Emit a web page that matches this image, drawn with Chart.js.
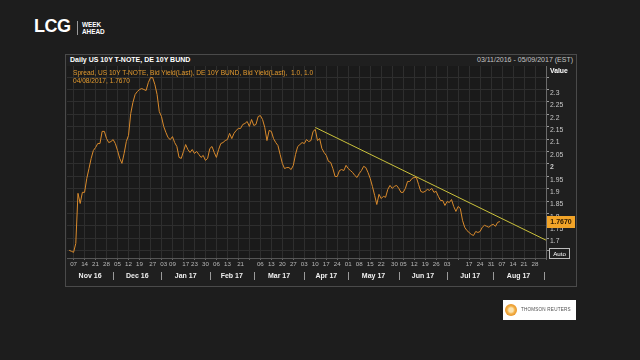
<!DOCTYPE html>
<html><head><meta charset="utf-8">
<script src="https://cdn.jsdelivr.net/npm/chart.js@4"></script>
<style>
html,body{margin:0;padding:0;background:#1d1d1d;width:640px;height:360px;overflow:hidden;font-family:"Liberation Sans",Arial,sans-serif;}
.abs{position:absolute;white-space:nowrap;}
#panel{left:65px;top:54px;width:512px;height:233px;border:1px solid #4a4a4a;background:#1f1f1f;box-sizing:border-box;}
#wrap{left:66px;top:64px;width:510px;height:222px;}
#title{left:70px;top:56px;color:#fff;font-weight:bold;font-size:7px;line-height:8px;}
#range{right:67px;top:56px;color:#c4c4c4;font-size:7px;line-height:8px;}
#leg1{left:73px;top:69px;color:#e39a2e;font-size:6.6px;line-height:8px;}
#leg2{left:73px;top:77px;color:#e39a2e;font-size:6.6px;line-height:8px;}
#valuehdr{left:550px;top:67px;color:#fff;font-weight:bold;font-size:6.8px;line-height:8px;}
#auto{left:549px;top:248px;width:19px;height:9px;border:1px solid #bdbdbd;color:#fff;font-size:6.2px;line-height:9px;text-align:center;}
#lcg{left:34px;top:16px;color:#fff;font-weight:bold;font-size:18px;line-height:20px;letter-spacing:-0.5px;}
#lcgsep{left:77px;top:21px;width:1px;height:14px;background:#9a9a9a;}
#week{left:82px;top:21px;color:#fff;font-weight:bold;font-size:6.4px;line-height:7px;}
#tr{left:503px;top:300px;width:73px;height:20px;background:#fff;}
#trlogo{left:505px;top:304px;width:12px;height:12px;border-radius:50%;background:radial-gradient(circle at 50% 50%,#fbe3b0 0 25%,#f3b24a 45%,#e8962a 70%,#f7c77a 100%);}
#trtext{left:521px;top:307px;color:#505050;font-size:4.6px;line-height:6px;letter-spacing:0.2px;}
</style>
</head><body>
<div id="panel" class="abs"></div>
<div id="title" class="abs">Daily US 10Y T-NOTE, DE 10Y BUND</div>
<div id="range" class="abs">03/11/2016 - 05/09/2017 (EST)</div>
<div id="wrap" class="abs"><canvas id="c" width="510" height="222"></canvas></div>
<div id="leg1" class="abs">Spread, US 10Y T-NOTE, Bid Yield(Last), DE 10Y BUND, Bid Yield(Last),&nbsp; 1.0, 1.0</div>
<div id="leg2" class="abs">04/08/2017, 1.7670</div>
<div id="valuehdr" class="abs">Value</div>
<div id="auto" class="abs">Auto</div>
<div id="lcg" class="abs">LCG</div>
<div id="lcgsep" class="abs"></div>
<div id="week" class="abs">WEEK<br>AHEAD</div>
<div id="tr" class="abs"></div>
<div id="trlogo" class="abs"></div>
<div id="trtext" class="abs">THOMSON REUTERS</div>
<script>
// ---- data ----
const axisStart = '2016-11-02';
const axisEnd = '2017-09-04';
const spreadStart = '2016-11-03';
const spread = [
1.651,1.647,1.643,1.679,1.881,1.840,1.885,1.885,1.941,1.981,
2.022,2.054,2.066,2.082,2.082,2.131,2.131,2.102,2.086,2.090,
2.098,2.082,2.054,2.022,2.002,2.042,2.090,2.115,2.203,2.248,
2.280,2.292,2.300,2.304,2.300,2.296,2.328,2.348,2.348,2.320,
2.280,2.211,2.191,2.151,2.127,2.106,2.098,2.110,2.086,2.070,
2.026,2.022,2.050,2.078,2.058,2.046,2.058,2.042,2.050,2.038,
2.026,2.034,2.014,2.022,2.062,2.070,2.046,2.026,2.058,2.082,
2.086,2.094,2.098,2.123,2.102,2.123,2.135,2.143,2.143,2.159,
2.163,2.171,2.151,2.179,2.155,2.159,2.191,2.195,2.179,2.147,
2.094,2.135,2.131,2.102,2.086,2.074,2.038,2.002,1.981,1.985,
1.985,1.977,1.994,2.038,2.070,2.078,2.086,2.082,2.098,2.090,
2.094,2.131,2.139,2.094,2.102,2.062,2.046,2.034,2.010,2.006,
1.981,1.949,1.949,1.973,1.977,1.973,1.994,1.981,1.973,1.965,
1.953,1.945,1.961,1.973,1.990,1.985,1.965,1.941,1.909,1.873,
1.836,1.877,1.860,1.869,1.865,1.897,1.913,1.901,1.909,1.913,
1.901,1.885,1.885,1.901,1.929,1.929,1.941,1.945,1.945,1.917,
1.889,1.885,1.889,1.897,1.893,1.901,1.885,1.889,1.869,1.852,
1.852,1.832,1.848,1.844,1.856,1.828,1.808,1.828,1.820,1.772,
1.744,1.731,1.723,1.715,1.711,1.727,1.723,1.727,1.744,1.752,
1.748,1.744,1.752,1.756,1.748,1.764,1.767
];
const trendDates = ['2017-04-10', '2017-09-04'];
const trendValues = [2.147, 1.692];
const lastValue = 1.7670;
const yGridValues = [1.65,1.7,1.75,1.8,1.85,1.9,1.95,2,2.05,2.1,2.15,2.2,2.25,2.3,2.35];
const yLabelMin = 1.7, yLabelMax = 2.3;
const weekLabels = [
'2016-11-07','2016-11-14','2016-11-21','2016-11-28',
'2016-12-05','2016-12-12','2016-12-19','2016-12-27',
'2017-01-03','2017-01-09','2017-01-17','2017-01-23','2017-01-30',
'2017-02-06','2017-02-13','2017-02-21',
'2017-03-06','2017-03-13','2017-03-20','2017-03-27',
'2017-04-03','2017-04-10','2017-04-17','2017-04-24',
'2017-05-01','2017-05-08','2017-05-15','2017-05-22','2017-05-30',
'2017-06-05','2017-06-12','2017-06-19','2017-06-26',
'2017-07-03','2017-07-17','2017-07-24','2017-07-31',
'2017-08-07','2017-08-14','2017-08-21','2017-08-28'
];
const monthKeys = ['2016-11','2016-12','2017-01','2017-02','2017-03','2017-04','2017-05','2017-06','2017-07','2017-08','2017-09'];
const monthLabels = ['Nov 16','Dec 16','Jan 17','Feb 17','Mar 17','Apr 17','May 17','Jun 17','Jul 17','Aug 17'];

// ---- build categories (weekdays) ----
function ymd(d){return d.toISOString().slice(0,10);}
const categories = [];
for (let d = new Date(axisStart+'T00:00:00Z'); ymd(d) <= axisEnd; d.setUTCDate(d.getUTCDate()+1)) {
  const w = d.getUTCDay(); if (w > 0 && w < 6) categories.push(ymd(d));
}
const s0 = categories.indexOf(spreadStart);
const spreadData = categories.map((c,i) => (i >= s0 && i - s0 < spread.length) ? spread[i - s0] : null);
const trendData = categories.map(c => { const k = trendDates.indexOf(c); return k >= 0 ? trendValues[k] : null; });
const isMonday = i => categories[i] && new Date(categories[i]+'T00:00:00Z').getUTCDay() === 1;

const FAM = '"Liberation Sans", Arial, sans-serif';

const decor = {
  id: 'decor',
  beforeDraw(chart) {
    const {ctx, chartArea: a} = chart;
    ctx.save();
    ctx.fillStyle = '#1a1a1a';
    ctx.fillRect(a.left, a.top, a.right - a.left, a.bottom - a.top);
    ctx.restore();
  },
  afterDraw(chart) {
    const {ctx, chartArea: a, scales: {x, y}} = chart;
    ctx.save();
    const firstIdx = key => categories.findIndex(c => c.slice(0,7) === key);
    ctx.font = 'bold 7px ' + FAM;
    ctx.textAlign = 'center';
    ctx.textBaseline = 'middle';
    for (let m = 0; m < monthLabels.length; m++) {
      const i0 = firstIdx(monthKeys[m]);
      const i1 = firstIdx(monthKeys[m+1]);
      const p0 = m === 0 ? a.left : x.getPixelForValue(i0);
      const p1 = x.getPixelForValue(i1);
      ctx.fillStyle = '#f0f0f0';
      ctx.fillText(monthLabels[m], (p0 + p1) / 2, a.bottom + 18.5);
      ctx.fillStyle = '#9a9a9a';
      ctx.fillRect(Math.round(p1), a.bottom + 14, 1, 8);
    }
    const yy = y.getPixelForValue(lastValue);
    ctx.fillStyle = '#f2a428';
    ctx.fillRect(a.right + 1, Math.round(yy) - 6, 28, 12);
    ctx.fillStyle = '#2a1800';
    ctx.font = 'bold 7px ' + FAM;
    ctx.fillText(lastValue.toFixed(4), a.right + 15, yy + 0.5);
    ctx.restore();
  }
};

new Chart(document.getElementById('c'), {
  type: 'line',
  data: {
    labels: categories,
    datasets: [
      {data: spreadData, borderColor: '#d98a2c', borderWidth: 1, pointRadius: 0, tension: 0, spanGaps: false},
      {data: trendData, borderColor: '#cbc23c', borderWidth: 1, pointRadius: 0, tension: 0, spanGaps: true}
    ]
  },
  options: {
    responsive: false, animation: false,
    layout: {padding: {left: 1, top: 2, right: 0, bottom: 0}},
    plugins: {legend: {display: false}, tooltip: {enabled: false}},
    scales: {
      x: {
        type: 'category', offset: false,
        grid: {color: c => isMonday(c.index) ? '#2e2e2e' : 'rgba(0,0,0,0)', tickLength: 2, tickColor: c => isMonday(c.index) ? '#666' : 'rgba(0,0,0,0)'},
        border: {color: '#555'},
        ticks: {autoSkip: false, maxRotation: 0, minRotation: 0, color: '#b8b8b8', padding: 1,
          font: {size: 6.2, family: FAM},
          callback: (v, i) => weekLabels.includes(categories[i]) ? categories[i].slice(8) : ''},
        afterFit: s => { s.height = 28; }
      },
      y: {
        position: 'right', min: 1.62, max: 2.395,
        afterBuildTicks: s => { s.ticks = yGridValues.map(v => ({value: v})); },
        grid: {color: '#2e2e2e', tickLength: 3, tickColor: '#9a9a9a'},
        border: {color: '#6a6a6a'},
        ticks: {color: '#c8c8c8', padding: 1, align: 'start',
          font: c => ({size: 6.8, family: FAM, weight: (c.tick && c.tick.value === 2) ? 'bold' : 'normal'}),
          callback: v => (v >= yLabelMin - 1e-6 && v <= yLabelMax + 1e-6) ? String(+v.toFixed(2)) : ''},
        afterFit: s => { s.width = 30; }
      }
    }
  },
  plugins: [decor]
});
</script>
</body></html>
